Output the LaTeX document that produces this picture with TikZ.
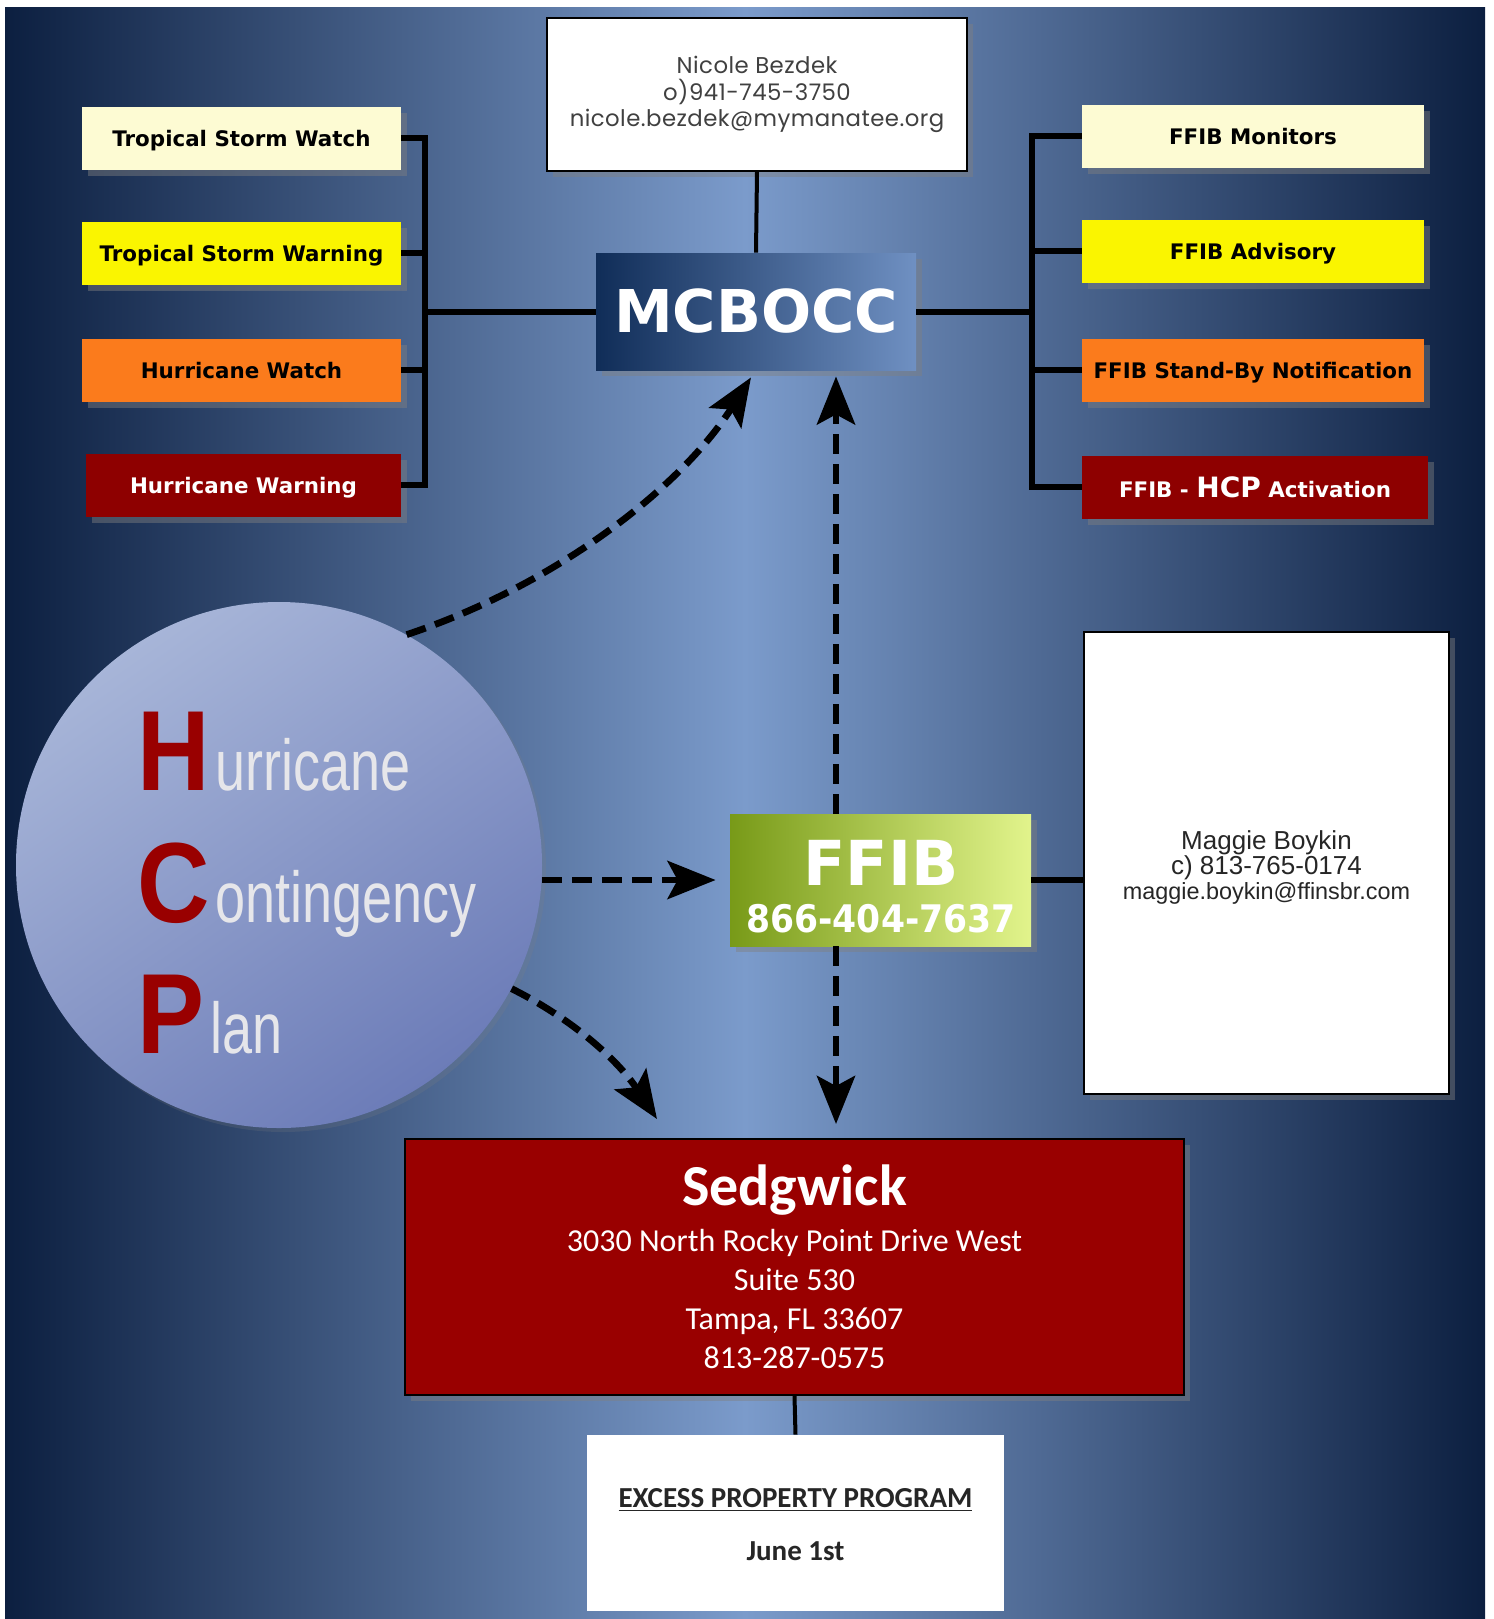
\documentclass[tikz,border=0pt]{standalone}
\usepackage{fontspec}
\usetikzlibrary{arrows.meta, positioning, calc, shadows}
\newfontfamily\vfont{DejaVu Sans}
\newfontfamily\gfont{Poppins}[LetterSpace=2]
\newfontfamily\afont{Liberation Sans}
\newfontfamily\nfont{Liberation Sans}[FakeStretch=0.75]
\newfontfamily\hfont{Liberation Sans}[FakeStretch=0.88]
\newfontfamily\cfont{Carlito}

\definecolor{bgdark}{HTML}{0C1F40}
\definecolor{bgmid}{HTML}{7B9BCB}
\definecolor{cream}{HTML}{FDFBD3}
\definecolor{ylw}{HTML}{FAF500}
\definecolor{orng}{HTML}{FB7B1C}
\definecolor{dred}{HTML}{8E0000}
\definecolor{sred}{HTML}{990000}
\definecolor{mcdark}{HTML}{102D58}
\definecolor{mclight}{HTML}{6F90C2}
\definecolor{ffdark}{HTML}{789A18}
\definecolor{fflight}{HTML}{E2F48C}
\definecolor{hcpA}{HTML}{A7B5D8}
\definecolor{hcpB}{HTML}{6C7CB8}
\definecolor{hcptext}{HTML}{E6E6EA}

\newcommand{\hcpcap}[1]{{\color{sred}\hfont\bfseries\fontsize{57}{57}\selectfont #1}\hspace{3pt}}

\begin{document}
\begin{tikzpicture}[x=0.5pt, y=-0.5pt,
    softshadow/.style={drop shadow={shadow xshift=3pt, shadow yshift=-3pt, opacity=0.45}},
    level/.style={font=\vfont\bfseries\fontsize{10.7}{13}\selectfont, minimum height=31.5pt, inner sep=0pt, text depth=0pt, softshadow},
    lbox/.style={level, minimum width=159.5pt},
    rbox/.style={level, minimum width=171pt},
    conn/.style={line width=3pt},
    thinconn/.style={line width=2pt},
    dasharrow/.style={line width=3.4pt, dash pattern=on 10pt off 5pt, -{Stealth[length=24pt, width=19pt, inset=5pt]}},
    hcpline/.style={anchor=base west, inner sep=0pt, text=hcptext, font=\nfont\fontsize{36}{36}\selectfont}]

    % page and background
    \useasboundingbox (0,0) rectangle (1494,1619);
    \fill[white] (0,0) rectangle (1494,1619);
    \shade[left color=bgdark, right color=bgdark, middle color=bgmid] (5,7) rectangle (1485,1619);

    % alert levels, left side
    \node[lbox, fill=cream] (tsw) at (241.5,138) {Tropical Storm Watch};
    \node[lbox, fill=ylw] (tswarn) at (241.5,253) {Tropical Storm Warning};
    \node[lbox, fill=orng] (hwatch) at (241.5,370) {Hurricane Watch};
    \node[lbox, fill=dred, text=white, minimum width=157.5pt] (hwarn) at (243.5,485) {Hurricane Warning};

    % FFIB levels, right side
    \node[rbox, fill=cream] (mon) at (1253,136) {FFIB Monitors};
    \node[rbox, fill=ylw] (adv) at (1253,251) {FFIB Advisory};
    \node[rbox, fill=orng] (standby) at (1253,370) {FFIB Stand-By Notification};
    \node[rbox, fill=dred, text=white, minimum width=173pt] (activ) at (1255,487) {FFIB - {\fontsize{14}{14}\selectfont HCP} Activation};

    % county
    \node[draw, line width=1pt, fill=white, minimum width=210pt, minimum height=76.5pt, align=center,
          font=\gfont\fontsize{11.4}{13.25}\selectfont, text=black!75, softshadow] (nicole) at (757,94.5)
          {Nicole Bezdek\\o)941-745-3750\\nicole.bezdek@mymanatee.org};
    \node[left color=mcdark, right color=mclight, minimum width=160pt, minimum height=58.5pt, inner sep=0pt,
          text=white, font=\vfont\bfseries\fontsize{29.5}{30}\selectfont, softshadow] (mcbocc) at (756,311.5) {MCBOCC};

    % brackets
    \coordinate (lbar) at (425,311.5);
    \coordinate (rbar) at (1032,311.5);
    \foreach \b in {tsw, tswarn, hwatch, hwarn}
        \draw[conn] (\b.east) -| (lbar);
    \foreach \b in {mon, adv, standby, activ}
        \draw[conn] (\b.west) -| (rbar);
    \draw[conn] (lbar) -- (mcbocc.west);
    \draw[conn] (mcbocc.east) -- (rbar);
    \draw[thinconn] (nicole.south) -- (mcbocc.north);

    % hurricane contingency plan
    \node[circle, minimum size=263pt, inner sep=0pt, top color=hcpA, bottom color=hcpB, shading angle=35,
          drop shadow={shadow xshift=2pt, shadow yshift=-2pt, opacity=0.2}] (hcp) at (279,865) {};
    \node[hcpline] (lineh) at (137,790) {\hcpcap{H}urricane};
    \node[hcpline] (linec) at (137,922) {\hcpcap{C}ontingency};
    \node[hcpline] (linep) at (137,1053) {\hcpcap{P}lan};

    % FFIB
    \node[left color=ffdark, right color=fflight, minimum width=150.5pt, minimum height=66pt, inner sep=0pt, softshadow] (ffib) at (880.5,880) {};
    \node[text=white, inner sep=0pt, font=\vfont\bfseries\fontsize{31}{31}\selectfont] (ffibname) at (881,863) {FFIB};
    \node[text=white, inner sep=0pt, font=\vfont\bfseries\fontsize{19}{19}\selectfont] (ffibnum) at (881,919) {\scalebox{0.91}[1]{866-404-7637}};

    \node[draw, line width=1pt, fill=white, minimum width=182.5pt, minimum height=231pt, softshadow] (maggie) at (1266.5,863) {};
    \node[align=center, inner sep=0pt, text=black!85, font=\afont\fontsize{13}{12.5}\selectfont] (maggietext) at (1266.5,867)
          {Maggie Boykin\\c) 813-765-0174\\{\fontsize{11.7}{12.5}\selectfont maggie.boykin@ffinsbr.com}};
    \draw[conn] (ffib.east) -- (ffib.east -| maggie.west);

    % Sedgwick
    \node[draw, line width=1pt, fill=sred, text=white, minimum width=389.5pt, minimum height=128pt, align=center,
          font=\cfont\fontsize{16}{19.5}\selectfont, softshadow] (sedg) at (794.5,1267)
          {{\bfseries\fontsize{29}{23}\selectfont Sedgwick}\\[3.5pt]3030 North Rocky Point Drive West\\Suite 530\\Tampa, FL 33607\\813-287-0575};
    \node[fill=white, minimum width=208.5pt, minimum height=88pt, inner sep=0pt] (excess) at (795.5,1523) {};
    \node[inner sep=0pt, text=black!85, font=\cfont\bfseries\fontsize{14.5}{14.5}\selectfont] (epp) at (795.5,1500) {\underline{EXCESS PROPERTY PROGRAM}};
    \node[inner sep=0pt, text=black!85, font=\cfont\bfseries\fontsize{14.5}{14.5}\selectfont] (june) at (795.5,1551) {June 1st};
    \draw[thinconn] (sedg.south) -- (excess.north);

    % dashed arrows
    \coordinate (vline) at (836,0);
    \draw[dasharrow, shorten >=3pt] (ffib.north -| vline) -- (mcbocc.south -| vline);
    \draw[dasharrow, shorten >=7pt] (ffib.south -| vline) -- (sedg.north -| vline);
    \draw[dasharrow, shorten >=7pt] (ffib.west -| hcp.east) -- (ffib.west);
    \draw[dasharrow] (hcp.61) .. controls +(150,-50) and +(-70,110) .. ($(mcbocc.south)+(-5,7)$);
    \draw[dasharrow] (hcp.-28) .. controls +(60,30) and +(-40,-60) .. ($(sedg.north west)+(253,-19)$);
\end{tikzpicture}
\end{document}
